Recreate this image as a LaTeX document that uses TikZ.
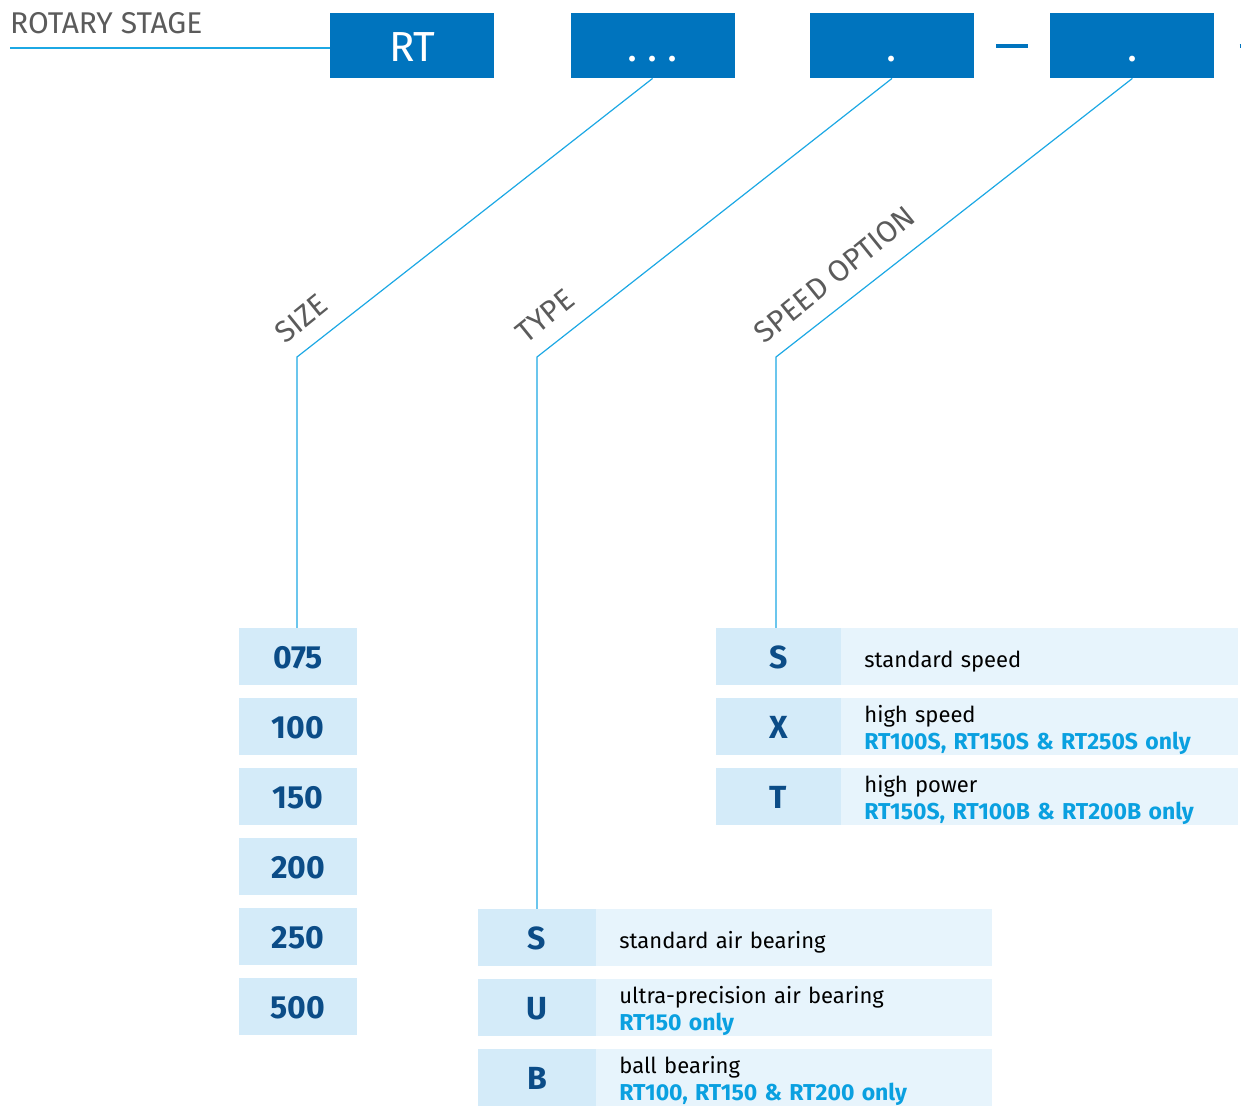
\documentclass[tikz,border=0pt]{standalone}
\usepackage{fontspec}
\setmainfont{Fira Sans}
\usetikzlibrary{positioning}
\definecolor{boxblue}{HTML}{0074BE}
\definecolor{leadcyan}{HTML}{1CA8E4}
\definecolor{cellkey}{HTML}{D4EBF9}
\definecolor{celldesc}{HTML}{E7F4FC}
\definecolor{keytext}{HTML}{0B4C87}
\definecolor{notetext}{HTML}{0AA0E0}
\definecolor{headgray}{HTML}{5B5B5B}
\newcommand{\onlyfor}[1]{{\color{notetext}\bfseries\fontsize{23}{27}\selectfont #1}}

\begin{document}
\begin{tikzpicture}[x=1pt,y=1pt,yscale=-1,
  codebox/.style={fill=boxblue,text=white,inner sep=0pt,minimum width=164pt,minimum height=65pt,
    text height=32pt,text depth=0pt,font=\fontsize{42}{42}\selectfont},
  lead/.style={draw=leadcyan,line width=1.2pt},
  catlabel/.style={text=headgray,inner sep=0pt,rotate=39,anchor=south west,font=\fontsize{30}{30}\selectfont},
  keybox/.style={fill=cellkey,text=keytext,inner sep=0pt,minimum height=57pt,text height=23.5pt,text depth=0pt,
    font=\bfseries\fontsize{32}{32}\selectfont},
  descbox/.style={fill=celldesc,inner xsep=23pt,inner ysep=0pt,minimum height=57pt,align=left,
    text height=21pt,text depth=0pt,font=\fontsize{22}{27}\selectfont},
  twoline/.style={text height=18pt,text depth=27pt}]
\useasboundingbox (0,0) rectangle (1241,1106);

\node[anchor=base west,inner sep=0pt,text=headgray,font=\fontsize{30}{30}\selectfont] (title) at (10,33) {ROTARY STAGE};
\coordinate (headline) at (10,48);

\node[codebox,anchor=north west] (rt) at (330,13) {RT};
\node[codebox,right=76pt of rt] (size) {.\hspace{10pt}.\hspace{10pt}.};
\node[codebox,right=75pt of size] (type) {.};
\node[codebox,right=76pt of type] (speed) {.};
\draw[lead] (headline) -- (headline -| rt.west);
\draw[boxblue,line width=4pt] ([xshift=22pt]type.east) -- ([xshift=-22pt]speed.west);
\draw[boxblue,line width=4pt] ([xshift=25pt]speed.east) -- ++(10,0);

% size column
\foreach \v [count=\i] in {075,100,150,200,250,500}
  \node[keybox,minimum width=118pt] (sz\i) at (298,{656.5+70*(\i-1)}) {\v};

% type table
\node[keybox,minimum width=118pt] (ts) at (537,937.5) {S};
\node[descbox,text width=350pt,right=0pt of ts] (tsd) {standard air bearing};
\node[keybox,minimum width=118pt] (tu) at (537,1007.5) {U};
\node[descbox,twoline,text width=350pt,right=0pt of tu] (tud) {ultra-precision air bearing\\\onlyfor{RT150 only}};
\node[keybox,minimum width=118pt] (tb) at (537,1077.5) {B};
\node[descbox,twoline,text width=350pt,right=0pt of tb] (tbd) {ball bearing\\\onlyfor{RT100, RT150 \& RT200 only}};

% speed table
\node[keybox,minimum width=125pt] (ss) at (778.5,656.5) {S};
\node[descbox,text width=351pt,right=0pt of ss] (ssd) {standard speed};
\node[keybox,minimum width=125pt] (sx) at (778.5,726.5) {X};
\node[descbox,twoline,text width=351pt,right=0pt of sx] (sxd) {high speed\\\onlyfor{RT100S, RT150S \& RT250S only}};
\node[keybox,minimum width=125pt] (st) at (778.5,796.5) {T};
\node[descbox,twoline,text width=351pt,right=0pt of st] (std) {high power\\\onlyfor{RT150S, RT100B \& RT200B only}};

% leaders
\coordinate (sizekink) at (297,357);
\coordinate (typekink) at (537,357);
\coordinate (speedkink) at (776,357);
\draw[lead] (size.south) -- (sizekink) -- (sizekink |- sz1.north);
\draw[lead] (type.south) -- (typekink) -- (typekink |- ts.north);
\draw[lead] (speed.south) -- (speedkink) -- (speedkink |- ss.north);
\node[catlabel] (sizelbl) at ([shift={(-11,-12)}]sizekink) {SIZE};
\node[catlabel] (typelbl) at ([shift={(-11,-12)}]typekink) {TYPE};
\node[catlabel] (speedlbl) at ([shift={(-11,-12)}]speedkink) {SPEED OPTION};
\end{tikzpicture}
\end{document}
